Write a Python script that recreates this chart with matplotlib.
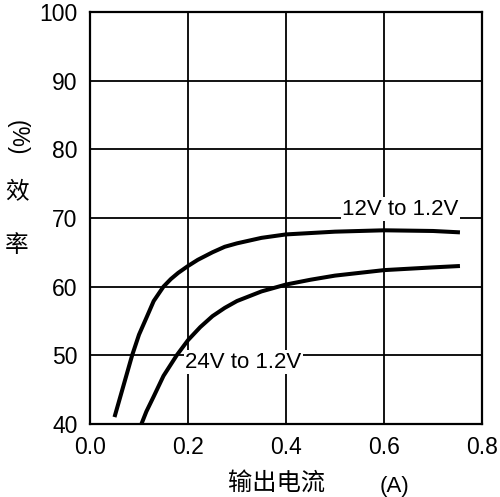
import matplotlib
matplotlib.use("Agg")
import matplotlib.pyplot as plt

# curve readings (output current A, efficiency %)
x_12v = [0.05, 0.07, 0.086, 0.10, 0.116, 0.13, 0.15, 0.165, 0.18, 0.20,
         0.22, 0.25, 0.275, 0.30, 0.35, 0.40, 0.50, 0.60, 0.70, 0.755]
y_12v = [41.0, 46.0, 50.0, 53.0, 55.6, 57.9, 60.0, 61.1, 62.0, 63.0,
         63.9, 65.0, 65.8, 66.3, 67.1, 67.6, 68.0, 68.2, 68.1, 67.9]

x_24v = [0.105, 0.115, 0.13, 0.15, 0.177, 0.20, 0.225, 0.25, 0.275, 0.30,
         0.35, 0.40, 0.45, 0.50, 0.60, 0.70, 0.755]
y_24v = [40.0, 41.8, 44.0, 47.0, 50.0, 52.2, 54.1, 55.7, 56.9, 57.9,
         59.3, 60.3, 61.0, 61.6, 62.4, 62.8, 63.0]

x_ticks = [0.0, 0.2, 0.4, 0.6, 0.8]
x_tick_labels = ["0.0", "0.2", "0.4", "0.6", "0.8"]
y_ticks = [40, 50, 60, 70, 80, 90, 100]

label_12v = "12V to 1.2V"
label_24v = "24V to 1.2V"

plt.rcParams['font.family'] = ['Liberation Sans', 'Noto Sans CJK SC', 'DejaVu Sans']

fig = plt.figure(figsize=(5, 4.97), dpi=100)
ax = fig.add_axes([0.18, 0.147, 0.784, 0.829])

for xs, ys in [(x_12v, y_12v), (x_24v, y_24v)]:
    ax.plot(xs, ys, color="black", lw=2.9, solid_capstyle="butt",
            solid_joinstyle="round", zorder=3)

ax.set_xlim(0, 0.8)
ax.set_ylim(40, 100)
ax.set_xticks(x_ticks)
ax.set_xticklabels(x_tick_labels)
ax.set_yticks(y_ticks)
ax.tick_params(length=0, labelsize=16.5, pad=9, colors="black")
ax.grid(True, color="black", lw=1.3)
ax.set_axisbelow(True)
for s in ax.spines.values():
    s.set_linewidth(1.6)

ax.text(0.633, 71.3, label_12v, fontsize=16, ha="center", va="center",
        bbox=dict(facecolor="white", edgecolor="none", pad=1), zorder=2)
ax.text(0.194, 49.0, label_24v, fontsize=16, ha="left", va="center",
        bbox=dict(facecolor="white", edgecolor="none", pad=1), zorder=2)

# axis titles
fig.text(0.034, 0.722, "(%)", fontsize=16.5, rotation=270, ha="center", va="center")
fig.text(0.034, 0.612, "效", fontsize=17, ha="center", va="center",
         family=['Noto Sans CJK SC'])
fig.text(0.034, 0.507, "率", fontsize=17, ha="center", va="center",
         family=['Noto Sans CJK SC'])
fig.text(0.553, 0.028, "输出电流", fontsize=17.5, ha="center", va="center",
         family=['Noto Sans CJK SC'])
fig.text(0.789, 0.022, "(A)", fontsize=16, ha="center", va="center")

fig.savefig("out.png", dpi=100)
